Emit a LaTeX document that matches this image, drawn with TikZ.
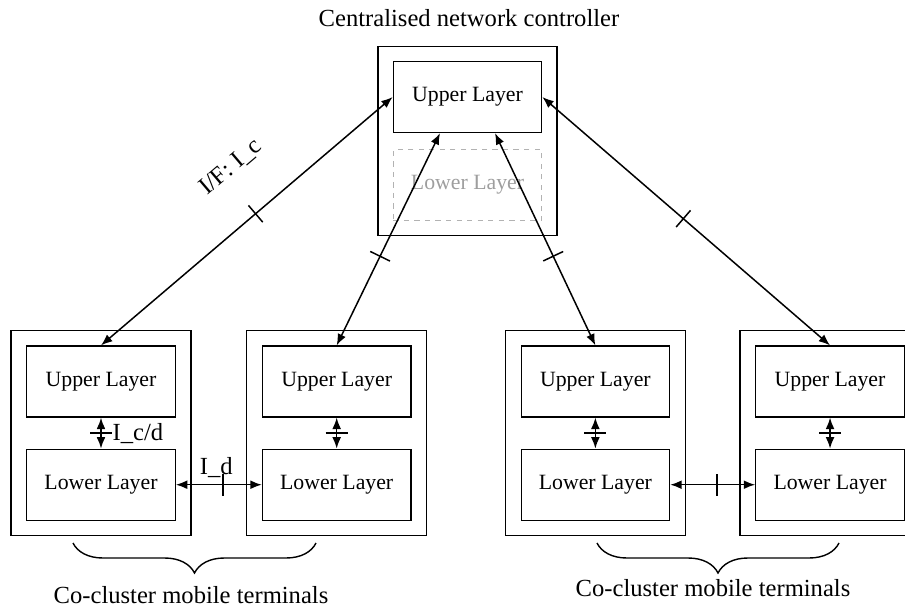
\documentclass[tikz,border=0pt]{standalone}
\usepackage{fontspec}
\setmainfont{Liberation Serif}
\usetikzlibrary{positioning,calc,arrows,arrows.meta}
\usetikzlibrary{decorations.pathreplacing,decorations.markings}
\tikzstyle{layer} = [rectangle, draw, line width=0.7pt, 
    minimum width=2.97cm, minimum height=1.42cm, inner sep=0pt, font=\fontsize{12.4}{14}\selectfont]
\tikzstyle{ghost} = [layer, draw=black!30, dashed, text=black!38]
\tikzstyle{terminal} = [rectangle, draw, line width=0.7pt, minimum width=3.6cm, minimum height=4.1cm]
\tikzstyle{controller} = [terminal, minimum width=3.58cm, minimum height=3.78cm]
\tikzstyle{line} = [draw, {Latex[length=6.5pt,width=5pt]}-{Latex[length=6.5pt,width=5pt]}, line width=0.85pt]
\tikzstyle{brace} = [draw, line width=0.8pt, decorate, decoration={brace, amplitude=0.6cm}]
\tikzset{ifmark/.style={postaction={decorate, decoration={markings,
    mark=at position #1 with {\draw[arrows=-, line width=0.85pt] (0,-0.22cm) -- (0,0.22cm);}}}}}

\begin{document}
\begin{tikzpicture}[x=0.02cm,y=-0.02cm,font=\fontsize{14}{16}\selectfont]
    \useasboundingbox (0,0) rectangle (905,608);
    % Place nodes
    \node (title) at (469,18) {Centralised network controller};
    \node [layer] (ctrlUp) at (467.5,97) {Upper Layer};
    \node [ghost,below=0.32cm of ctrlUp] (ctrlLow) {Lower Layer};
    \node [controller] (ctrl) at ($(ctrlUp)!0.5!(ctrlLow)$) {};

    \node [layer] (upA) at (101,381.5) {Upper Layer};
    \node [layer,right=1.72cm of upA] (upB) {Upper Layer};
    \node [layer,right=2.18cm of upB] (upC) {Upper Layer};
    \node [layer,right=1.7cm of upC] (upD) {Upper Layer};

    \node [layer,below=0.62cm of upA] (lowA) {Lower Layer};
    \node [layer,below=0.62cm of upB] (lowB) {Lower Layer};
    \node [layer,below=0.62cm of upC] (lowC) {Lower Layer};
    \node [layer,below=0.62cm of upD] (lowD) {Lower Layer};

    \node [terminal] (termA) at ($(upA)!0.5!(lowA)$) {};
    \node [terminal] (termB) at ($(upB)!0.5!(lowB)$) {};
    \node [terminal] (termC) at ($(upC)!0.5!(lowC)$) {};
    \node [terminal] (termD) at ($(upD)!0.5!(lowD)$) {};

    \node (clusterA) at (191,595) {Co-cluster mobile terminals};
    \node (clusterB) at (713,588) {Co-cluster mobile terminals};

    % Draw edges
    \path [line,ifmark=0.47] (ctrlUp.west) -- node[sloped,pos=0.44,above=0.7cm] {I/F: I\_c} (upA.north);
    \path [line,ifmark=0.58] ([xshift=-0.55cm]ctrlUp.south) -- (upB.north);
    \path [line,ifmark=0.58] ([xshift=0.55cm]ctrlUp.south) -- (upC.north);
    \path [line,ifmark=0.49] (ctrlUp.east) -- (upD.north);

    \path [line,ifmark=0.5] (upA) -- node[right,xshift=0.1cm] {I\_c/d} (lowA);
    \path [line,ifmark=0.5] (upB) -- (lowB);
    \path [line,ifmark=0.5] (upC) -- (lowC);
    \path [line,ifmark=0.5] (upD) -- (lowD);

    \path [line,ifmark=0.55] (lowA) -- node[above,pos=0.47] {I\_d} (lowB);
    \path [line,ifmark=0.55] (lowC) -- (lowD);

    % Braces
    \draw [brace] (316,543) -- (73,543);
    \draw [brace] (839,543) -- (597,543);
\end{tikzpicture}
\end{document}
